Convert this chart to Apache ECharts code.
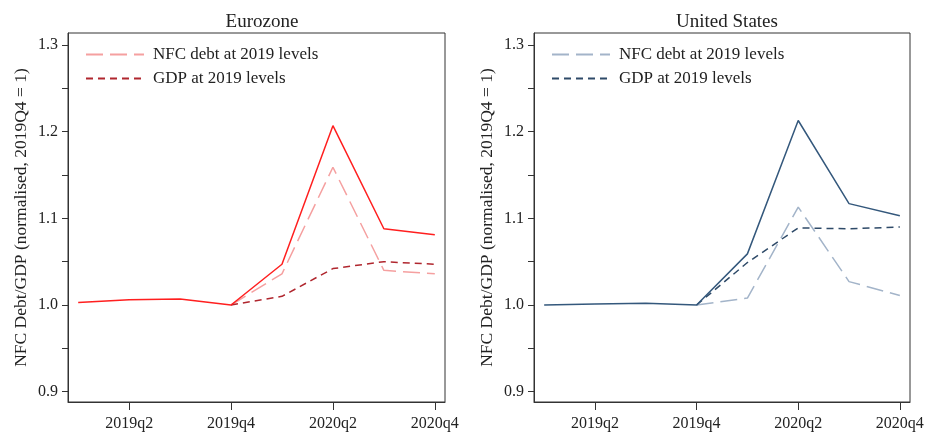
<!DOCTYPE html>
<html>
<head>
<meta charset="utf-8">
<script src="https://cdn.jsdelivr.net/npm/echarts@6/dist/echarts.min.js"></script>
<style>
html,body{margin:0;padding:0;background:#fff;}
#chart{width:935px;height:434px;}
</style>
</head>
<body>
<div id="chart"></div>
<script>
const quarters = ['2019q1','2019q2','2019q3','2019q4','2020q1','2020q2','2020q3','2020q4'];
const xTickIdx = [1, 3, 5, 7];
const yTicks = [0.9, 0.95, 1.0, 1.05, 1.1, 1.15, 1.2, 1.25, 1.3];
const yLabels = [0.9, 1.0, 1.1, 1.2, 1.3];
const panelTitles = ['Eurozone', 'United States'];
const legendLabels = ['NFC debt at 2019 levels', 'GDP at 2019 levels'];
const yAxisTitle = 'NFC Debt/GDP (normalised, 2019Q4 = 1)';

const ezActual = [1.003, 1.006, 1.007, 1.000, 1.047, 1.207, 1.088, 1.081];
const ezNfc    = [null, null, null, 1.000, 1.036, 1.159, 1.040, 1.036];
const ezGdp    = [null, null, null, 1.000, 1.010, 1.042, 1.050, 1.047];
const usActual = [1.000, 1.001, 1.002, 1.000, 1.059, 1.213, 1.117, 1.103];
const usNfc    = [null, null, null, 1.000, 1.008, 1.113, 1.027, 1.011];
const usGdp    = [null, null, null, 1.000, 1.049, 1.089, 1.088, 1.090];

const FONT = '"Liberation Serif", "DejaVu Serif", serif';
const TXT = '#222';
const AX = '#333';

function pts(arr) {
  const out = [];
  arr.forEach((v, i) => { if (v !== null) out.push([i, v]); });
  return out;
}

const grids = [
  {left: 68, right: 490, top: 33, bottom: 32},
  {left: 534, right: 25, top: 33, bottom: 32}
];

function xAxis(gi) {
  return {
    type: 'value', gridIndex: gi, min: -0.2, max: 7.2,
    splitLine: {show: false},
    axisLine: {show: true, onZero: false, lineStyle: {color: AX, width: 1}},
    axisTick: {show: true, length: 8, customValues: xTickIdx, lineStyle: {color: AX}},
    axisLabel: {customValues: xTickIdx, margin: 14, fontFamily: FONT, fontSize: 16, color: TXT,
      formatter: v => quarters[Math.round(v)]}
  };
}
function yAxis(gi) {
  return {
    type: 'value', gridIndex: gi, min: 0.888, max: 1.314,
    name: yAxisTitle, nameLocation: 'middle', nameGap: 38, nameRotate: 90,
    nameTextStyle: {fontFamily: FONT, fontSize: 17.5, color: TXT},
    splitLine: {show: false},
    axisLine: {show: true, onZero: false, lineStyle: {color: AX, width: 1}},
    axisTick: {show: true, length: 6, customValues: yTicks, lineStyle: {color: AX}},
    axisLabel: {customValues: yLabels, margin: 10, fontFamily: FONT, fontSize: 16, color: TXT,
      formatter: v => v.toFixed(1)}
  };
}

const nameMap = {
  'ez_nfc': legendLabels[0], 'ez_gdp': legendLabels[1],
  'us_nfc': legendLabels[0], 'us_gdp': legendLabels[1]
};

function line(name, gi, arr, color, type, z) {
  return {
    name: name, type: 'line', xAxisIndex: gi, yAxisIndex: gi,
    data: pts(arr), showSymbol: false, symbol: 'none', z: z,
    lineStyle: {color: color, width: 1.5, type: type},
    itemStyle: {color: color},
    animation: false
  };
}

const LONG = [17, 7];
const SHORT = [7, 5];

function legend(data, left) {
  return {
    data: data, orient: 'vertical', left: left, top: 41,
    itemWidth: 58, itemHeight: 14, itemGap: 7, selectedMode: false,
    formatter: n => nameMap[n],
    itemStyle: {opacity: 0},
    textStyle: {fontFamily: FONT, fontSize: 17, color: TXT, padding: [0, 0, 0, 4]}
  };
}

const option = {
  backgroundColor: '#fff',
  animation: false,
  title: [
    {text: panelTitles[0], left: 257, top: 8, textAlign: 'center',
     textStyle: {fontFamily: FONT, fontSize: 19, fontWeight: 'normal', color: TXT}},
    {text: panelTitles[1], left: 722, top: 8, textAlign: 'center',
     textStyle: {fontFamily: FONT, fontSize: 19, fontWeight: 'normal', color: TXT}}
  ],
  legend: [legend(['ez_nfc', 'ez_gdp'], 80), legend(['us_nfc', 'us_gdp'], 546)],
  grid: grids.map(g => Object.assign({show: true, borderColor: AX, borderWidth: 1, backgroundColor: '#fff'}, g)),
  xAxis: [xAxis(0), xAxis(1)],
  yAxis: [yAxis(0), yAxis(1)],
  series: [
    line('ez_nfc', 0, ezNfc, '#f5a0a0', LONG, 2),
    line('ez_gdp', 0, ezGdp, '#b0262e', SHORT, 3),
    line('ez_actual', 0, ezActual, '#ff1f1f', 'solid', 4),
    line('us_nfc', 1, usNfc, '#a3b4c9', LONG, 2),
    line('us_gdp', 1, usGdp, '#2e4a68', SHORT, 3),
    line('us_actual', 1, usActual, '#34587c', 'solid', 4)
  ]
};

const chart = echarts.init(document.getElementById('chart'), null, {renderer: 'canvas'});
chart.setOption(option);
</script>
</body>
</html>
